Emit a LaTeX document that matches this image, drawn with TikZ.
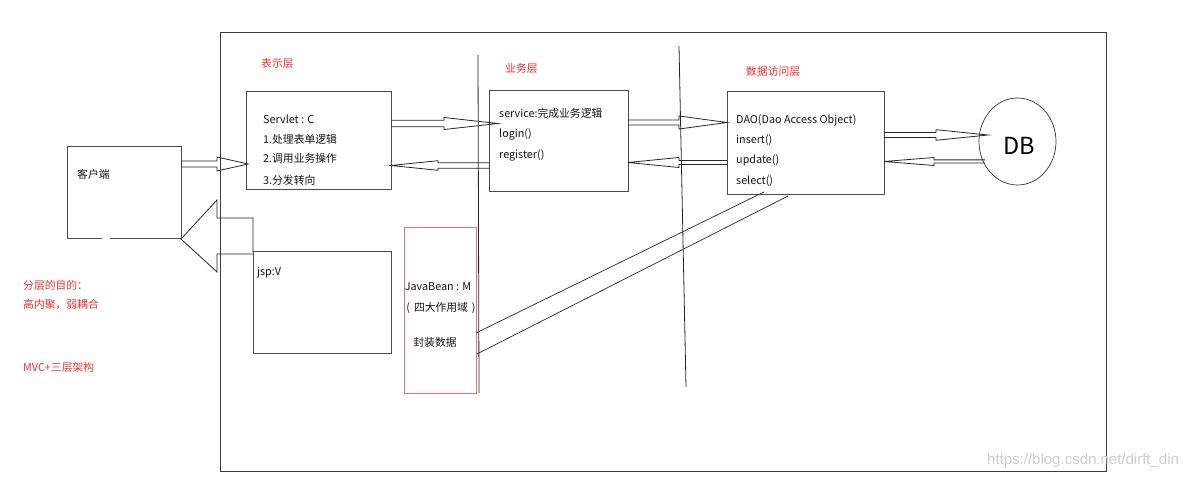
\documentclass[tikz,border=0pt]{standalone}
\usepackage{fontspec}
\newfontfamily\cjk{Noto Sans CJK SC}
\newfontfamily\wmfont{Liberation Sans}
\usetikzlibrary{calc,shapes.geometric}
\definecolor{framegray}{RGB}{60,60,60}
\definecolor{boxgray}{RGB}{75,75,75}
\definecolor{txt}{RGB}{20,20,20}
\definecolor{redtxt}{RGB}{250,45,45}
\definecolor{beanred}{RGB}{240,110,110}
\definecolor{wmgray}{RGB}{205,205,205}
\tikzset{
  box/.style={draw=boxgray, line width=1pt, inner sep=0pt, outer sep=0pt, anchor=north west},
  lbl/.style={font=\cjk\fontsize{10.8}{12}\selectfont, inner sep=0pt, anchor=west, text=txt},
  redlbl/.style={lbl, text=redtxt},
  clbl/.style={lbl, anchor=center},
  barrow/.style={draw=black!85, line width=0.8pt, line join=miter},
  thinline/.style={draw=black!85, line width=0.8pt},
}
\newcommand\blockarrow[5]{% tail, tip, shaft half width, head half width, head length
  \draw[barrow] let \p1=#1, \p2=#2, \n1={ifthenelse(\x2>\x1,1,-1)} in
    (\x1,{\y2-#3pt}) -- ({\x2-\n1*#5pt},{\y2-#3pt}) -- ({\x2-\n1*#5pt},{\y2-#4pt})
    -- (\x2,\y2) -- ({\x2-\n1*#5pt},{\y2+#4pt}) -- ({\x2-\n1*#5pt},{\y2+#3pt}) -- (\x1,{\y2+#3pt});}
\begin{document}
\begin{tikzpicture}[x=1pt,y=-1pt]
\useasboundingbox (0,0) rectangle (1195,478);
% outer frame
\node[box, draw=framegray, minimum width=886pt, minimum height=438pt] (frame) at (220,33) {};
% boxes
\node[box, draw=none, minimum width=114pt, minimum height=92pt] (client) at (67,147) {};
\draw[boxgray, line width=1pt] (102,239) -| (client.north west) -| (client.south east) -- (110,239);
\node[box, minimum width=145pt, minimum height=98pt] (servlet) at (246,92) {};
\node[box, minimum width=139pt, minimum height=101pt] (biz) at (489,91) {};
\node[box, minimum width=157pt, minimum height=103pt] (dao) at (727,92) {};
\node[box, minimum width=138pt, minimum height=102pt] (jsp) at (253,252) {};
\node[box, draw=beanred, minimum width=72pt, minimum height=166pt] (bean) at (404,228) {};
\node[ellipse, draw=black!80, line width=0.7pt, minimum width=77pt, minimum height=87pt, inner sep=0pt] (db) at (1017.5,141.5) {};
\node[font=\cjk\fontsize{23.5}{26}\selectfont, text=black, inner sep=0pt] (dbt) at (1019,146) {DB};
% layer separators
\coordinate (v1t) at (478,55); \coordinate (v1b) at (479,393);
\coordinate (v2t) at (679,46); \coordinate (v2b) at (686,387);
\draw[thinline] (v1t) -- (v1b);
\draw[thinline] (v2t) -- (v2b);
% texts
\node[lbl] (tclient) at (77,174) {客户端};
\node[redlbl] (l1) at (261,63) {表示层};
\node[redlbl] (l2) at (505,68) {业务层};
\node[redlbl] (l3) at (746,71) {数据访问层};
\node[lbl] (s1) at (263,119) {Servlet : C};
\node[lbl] (s2) at (263,139) {1.处理表单逻辑};
\node[lbl] (s3) at (263,158.5) {2.调用业务操作};
\node[lbl] (s4) at (263,180) {3.分发转向};
\node[lbl] (b1) at (499,113) {service:完成业务逻辑};
\node[lbl] (b2) at (499,134) {login()};
\node[lbl] (b3) at (499,155) {register()};
\node[lbl] (d1) at (736,120) {DAO(Dao Access Object)};
\node[lbl] (d2) at (736,140) {insert()};
\node[lbl] (d3) at (736,160) {update()};
\node[lbl] (d4) at (736,181) {select()};
\node[lbl] (tjsp) at (257,273) {jsp:V};
\node[clbl] (j1) at (438,287) {JavaBean : M};
\node[clbl] (j2) at (441,308) {(\hspace{4pt}四大作用域\hspace{4pt})};
\node[clbl] (j3) at (435,342) {封装数据};
\node[redlbl] (r1) at (23,285) {分层的目的：};
\node[redlbl] (r2) at (23,305) {高内聚，弱耦合};
\node[redlbl] (r3) at (23,367) {MVC+三层架构};
\node[font=\wmfont\fontsize{15}{17}\selectfont, text=wmgray, inner sep=0pt, anchor=west] (wm) at (987,461) {https://blog.csdn.net/dirft\_din};
% block arrows
\blockarrow{(client.east |- 0,164)}{(248,164)}{3}{7}{31}
\blockarrow{(servlet.east |- 0,123.5)}{(498,123.5)}{3.3}{6}{54}
\blockarrow{(biz.west |- 0,165.5)}{(servlet.east |- 0,165.5)}{2.8}{4.8}{47}
\blockarrow{(biz.east |- 0,122.5)}{(dao.west |- 0,122.5)}{2.5}{6.5}{48}
\blockarrow{(dao.west |- 0,162.5)}{(biz.east |- 0,162.5)}{2}{5}{51}
\blockarrow{(dao.east |- 0,135)}{(988,135)}{2.5}{5.3}{52}
\blockarrow{(985,161.5)}{(dao.east |- 0,161.5)}{1.6}{4}{50}
% big return arrow jsp -> client
\draw[barrow] (jsp.north west) -- ++(0,-34) -- (217,218) -- (217,200) -- (client.south east)
  -- (217,272) -- (217,254) -- (jsp.north west |- 0,254);
% JavaBean <-> DAO lines
\coordinate (dl1) at (764,192); \coordinate (dl2) at (788,196);
\draw[thinline, line width=0.7pt] (bean.east |- 0,333) -- (dl1);
\draw[thinline, line width=0.7pt] (477,354) -- (dl2);
\end{tikzpicture}
\end{document}
